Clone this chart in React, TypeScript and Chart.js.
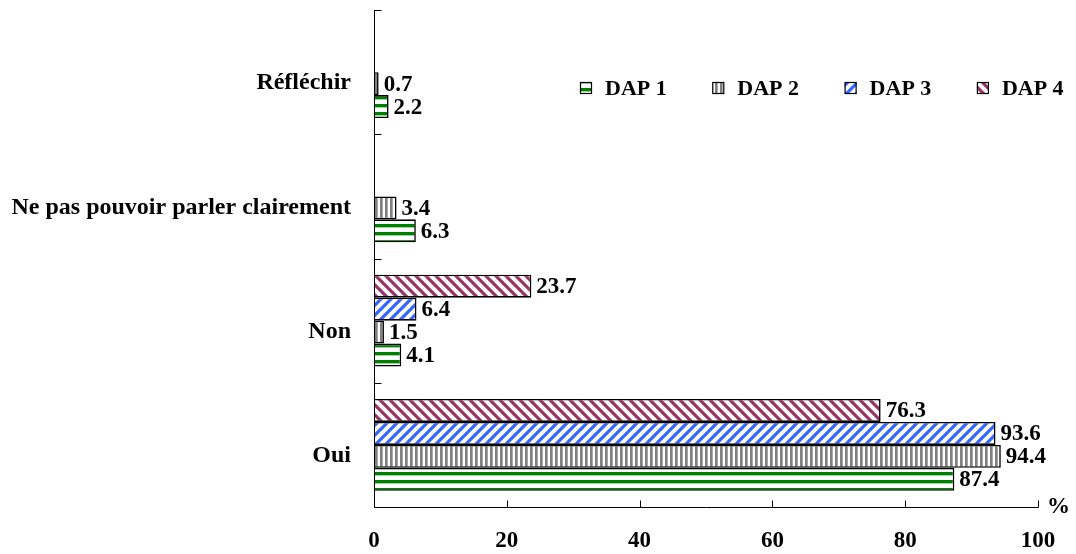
import React, { useEffect, useRef } from 'react';
import { Chart, registerables } from 'chart.js';

Chart.register(...registerables);

const categories = ['Réfléchir', 'Ne pas pouvoir parler clairement', 'Non', 'Oui'];
const seriesNames = ['DAP 1', 'DAP 2', 'DAP 3', 'DAP 4'];
const dap1: (number | null)[] = [2.2, 6.3, 4.1, 87.4];
const dap2: (number | null)[] = [0.7, 3.4, 1.5, 94.4];
const dap3: (number | null)[] = [null, null, 6.4, 93.6];
const dap4: (number | null)[] = [null, null, 23.7, 76.3];
const xTicks = [0, 20, 40, 60, 80, 100];
const axisUnit = '%';

const FONT = '"Liberation Serif", "Times New Roman", serif';

function makePattern(kind: number): CanvasPattern {
  const c = document.createElement('canvas');
  const g = c.getContext('2d') as CanvasRenderingContext2D;
  if (kind === 0) {
    c.width = 8; c.height = 8;
    g.fillStyle = '#fff'; g.fillRect(0, 0, 8, 8);
    g.fillStyle = '#008000'; g.fillRect(0, 0, 8, 3);
    g.fillStyle = '#9fd09f'; g.fillRect(0, 3, 8, 1);
  } else if (kind === 1) {
    c.width = 5; c.height = 5;
    g.fillStyle = '#fff'; g.fillRect(0, 0, 5, 5);
    g.fillStyle = '#808080'; g.fillRect(0, 0, 2, 5);
    g.fillStyle = '#a8a8a8'; g.fillRect(2, 0, 1, 5);
  } else {
    c.width = 10; c.height = 10;
    g.fillStyle = '#fff'; g.fillRect(0, 0, 10, 10);
    g.strokeStyle = kind === 2 ? '#3366FF' : '#993366';
    g.lineWidth = 3.2;
    g.beginPath();
    if (kind === 2) {
      for (const k of [0, 10, 20]) { g.moveTo(k - 12, 12); g.lineTo(k + 2, -2); }
    } else {
      for (const k of [-10, 0, 10]) { g.moveTo(k - 2, -2); g.lineTo(k + 12, 12); }
    }
    g.stroke();
  }
  return g.createPattern(c, 'repeat') as CanvasPattern;
}

export default function App() {
  const ref = useRef<HTMLCanvasElement | null>(null);

  useEffect(() => {
    const canvas = ref.current;
    if (!canvas) return;
    const patterns = [0, 1, 2, 3].map(makePattern);
    const seriesData = [dap1, dap2, dap3, dap4];
    // top-to-bottom order inside each group: DAP 4, DAP 3, DAP 2, DAP 1
    const order = [3, 2, 1, 0];
    const datasets = order.map((s) => ({
      label: seriesNames[s],
      data: seriesData[s],
      backgroundColor: patterns[s],
      borderColor: '#000',
      borderWidth: 1.6,
      categoryPercentage: 0.74,
      barPercentage: 1.0,
    }));

    const overlay = {
      id: 'overlay',
      afterDatasetsDraw(chart: any) {
        const { ctx, chartArea } = chart;
        const xs = chart.scales.x;
        const ys = chart.scales.y;
        ctx.save();
        ctx.strokeStyle = '#000';
        ctx.lineWidth = 1;
        const ax = Math.round(chartArea.left) + 0.5;
        const by = Math.round(chartArea.bottom) + 0.5;
        ctx.beginPath();
        ctx.moveTo(ax, chartArea.top);
        ctx.lineTo(ax, by);
        ctx.lineTo(Math.round(chartArea.right) + 0.5, by);
        const n = categories.length;
        for (let i = 0; i < n; i++) {
          const yy = Math.round(ys.top + (i * (ys.bottom - ys.top)) / n) + 0.5;
          ctx.moveTo(ax, yy);
          ctx.lineTo(ax + 7, yy);
        }
        for (const v of xTicks) {
          const px = Math.round(xs.getPixelForValue(v)) + 0.5;
          ctx.moveTo(px, by);
          ctx.lineTo(px, by - 7);
        }
        ctx.stroke();

        // value labels
        ctx.fillStyle = '#000';
        ctx.font = `bold 23px ${FONT}`;
        ctx.textAlign = 'left';
        ctx.textBaseline = 'middle';
        chart.data.datasets.forEach((ds: any, di: number) => {
          const meta = chart.getDatasetMeta(di);
          meta.data.forEach((el: any, i: number) => {
            const v = ds.data[i];
            if (v === null || v === undefined) return;
            ctx.fillText(Number(v).toFixed(1), el.x + 5, el.y + 1);
          });
        });

        // unit
        ctx.textBaseline = 'alphabetic';
        ctx.fillText(axisUnit, chartArea.right + 9, by + 5);

        // legend
        ctx.font = `bold 22px ${FONT}`;
        const legY = 88;
        seriesNames.forEach((name, s) => {
          const bx = 580 + s * 132.3;
          ctx.fillStyle = patterns[s];
          ctx.fillRect(bx, legY - 6, 12, 12);
          ctx.strokeStyle = '#000';
          ctx.lineWidth = 1.2;
          ctx.strokeRect(bx + 0.5, legY - 5.5, 11, 11);
          ctx.fillStyle = '#000';
          ctx.textBaseline = 'middle';
          ctx.fillText(name, bx + 25, legY + 1);
        });
        ctx.restore();
      },
    };

    const chart = new Chart(canvas, {
      type: 'bar',
      data: { labels: categories, datasets },
      options: {
        indexAxis: 'y',
        responsive: false,
        animation: false,
        layout: { padding: { top: 10, right: 38, left: 0, bottom: 0 } },
        plugins: { legend: { display: false }, tooltip: { enabled: false } },
        scales: {
          x: {
            min: 0,
            max: 100,
            afterBuildTicks: (s: any) => { s.ticks = xTicks.map((v) => ({ value: v })); },
            ticks: { font: { family: FONT, size: 23, weight: 'bold' }, color: '#000', padding: 20, maxRotation: 0 },
            grid: { display: false, drawTicks: false },
            border: { display: false },
            afterFit: (s: any) => { s.height = 47; s.paddingLeft = 0; s.paddingRight = 0; },
          },
          y: {
            ticks: { font: { family: FONT, size: 24, weight: 'bold' }, color: '#000', padding: 23, labelOffset: 11 },
            grid: { display: false, drawTicks: false },
            border: { display: false },
            afterFit: (s: any) => { s.width = 374; s.paddingTop = 0; s.paddingBottom = 0; },
          },
        },
      } as any,
      plugins: [overlay],
    });
    return () => chart.destroy();
  }, []);

  return (
    <div style={{ position: 'fixed', left: 0, top: 0, width: 1076, height: 554, background: '#fff' }}>
      <canvas ref={ref} width={1076} height={554} />
    </div>
  );
}
